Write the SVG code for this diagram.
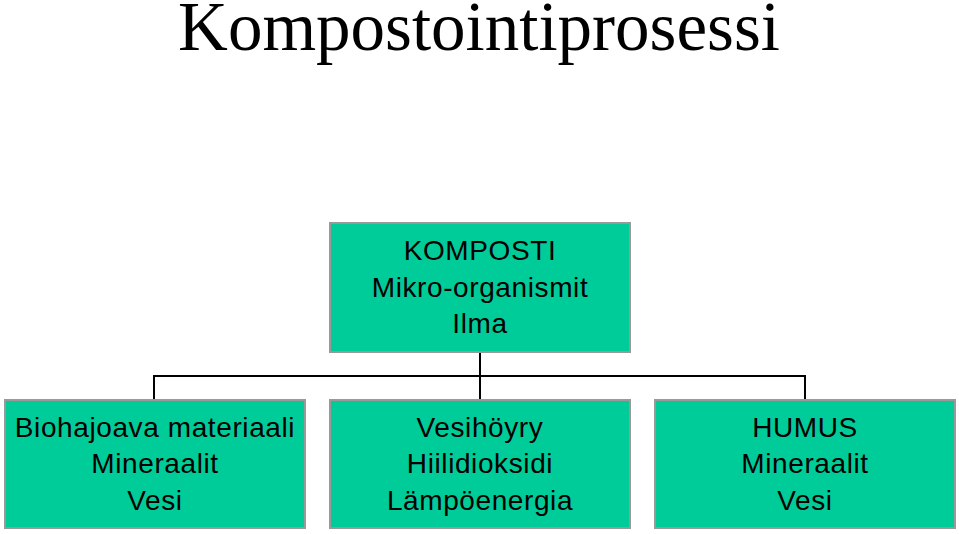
<svg xmlns="http://www.w3.org/2000/svg" width="959" height="534" viewBox="0 0 959 534">
<style>
.box{fill:#00CC99;stroke:#999999;stroke-width:2}
.t{font-family:"Liberation Sans",Arial,sans-serif;font-size:28px;fill:#000;text-anchor:middle;letter-spacing:0.6px}
.title{font-family:"Liberation Serif","Times New Roman",serif;font-size:69px;fill:#000;text-anchor:middle}
.c{stroke:#000;stroke-width:2;fill:none}
</style>
<rect width="959" height="534" fill="#fff"/>
<text class="title" x="479" y="50">Kompostointiprosessi</text>
<g id="connectors">
<path class="c" d="M480,352 V376 M154,399 V376 H805 V399 M480,376 V399"/>
</g>
<g id="komposti">
<rect class="box" x="330" y="223" width="300" height="129"/>
<text class="t" x="480" y="260">KOMPOSTI</text>
<text class="t" x="480" y="297">Mikro-organismit</text>
<text class="t" x="480" y="333">Ilma</text>
</g>
<g id="input">
<rect class="box" x="5" y="400" width="300" height="128"/>
<text class="t" x="155" y="437">Biohajoava materiaali</text>
<text class="t" x="155" y="473">Mineraalit</text>
<text class="t" x="155" y="510">Vesi</text>
</g>
<g id="gases">
<rect class="box" x="330" y="400" width="300" height="128"/>
<text class="t" x="480" y="437">Vesihöyry</text>
<text class="t" x="480" y="473">Hiilidioksidi</text>
<text class="t" x="480" y="510">Lämpöenergia</text>
</g>
<g id="humus">
<rect class="box" x="655" y="400" width="300" height="128"/>
<text class="t" x="805" y="437">HUMUS</text>
<text class="t" x="805" y="473">Mineraalit</text>
<text class="t" x="805" y="510">Vesi</text>
</g>
</svg>
